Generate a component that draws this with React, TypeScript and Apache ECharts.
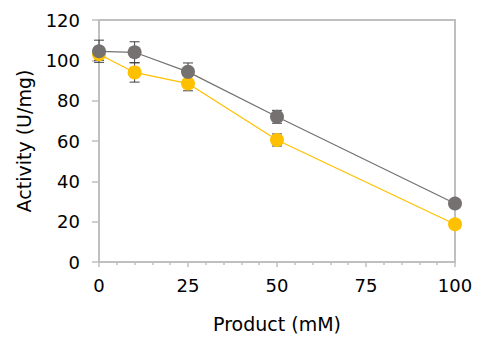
import React, { useEffect, useRef } from "react";
import * as echarts from "echarts";

const xValues = [0, 10, 25, 50, 100];
const graySeries = [104.5, 104, 94.3, 72, 29];
const grayErr = [5.5, 5.2, 4.4, 3.2, 1];
const yellowSeries = [103, 94, 88.5, 60.5, 18.7];
const yellowErr = [3, 4.8, 3.6, 3, 1];
const xTicks = [0, 25, 50, 75, 100];
const yTicks = [0, 20, 40, 60, 80, 100, 120];

const GRAY = "#767171";
const YELLOW = "#FFC000";
const AXIS = "#bfbfbf";
const FONT = "DejaVu Sans";

export default function App() {
  const ref = useRef<HTMLDivElement>(null);
  useEffect(() => {
    document.body.style.margin = "0";
    const chart = echarts.init(ref.current!, null, { renderer: "svg" });
    const errData: number[][] = [];
    xValues.forEach((x, i) => {
      errData.push([x, graySeries[i], grayErr[i]]);
      errData.push([x, yellowSeries[i], yellowErr[i]]);
    });
    chart.setOption({
      animation: false,
      grid: {
        left: 99,
        right: 22,
        top: 20,
        bottom: 75,
        show: true,
        borderColor: AXIS,
        borderWidth: 2,
      },
      xAxis: {
        type: "value",
        min: xTicks[0],
        max: xTicks[xTicks.length - 1],
        interval: 25,
        name: "Product (mM)",
        nameLocation: "middle",
        nameGap: 52,
        nameTextStyle: { fontFamily: FONT, fontSize: 19, color: "#000" },
        axisLine: { show: true, lineStyle: { color: AXIS, width: 2 } },
        axisTick: { show: true, length: 5, lineStyle: { color: AXIS, width: 1.5 } },
        minorTick: { show: true, splitNumber: 5, length: 3, lineStyle: { color: AXIS, width: 1.5 } },
        splitLine: { show: false },
        axisLabel: { fontFamily: FONT, fontSize: 18, color: "#000", margin: 14 },
      },
      yAxis: {
        type: "value",
        min: yTicks[0],
        max: yTicks[yTicks.length - 1],
        interval: 20,
        name: "Activity (U/mg)",
        nameLocation: "middle",
        nameGap: 66,
        nameTextStyle: { fontFamily: FONT, fontSize: 19, color: "#000" },
        axisLine: { show: true, lineStyle: { color: AXIS, width: 2 } },
        axisTick: { show: true, length: 7, lineStyle: { color: AXIS, width: 1.5 } },
        splitLine: { show: false },
        axisLabel: { fontFamily: FONT, fontSize: 18, color: "#000", margin: 19 },
      },
      series: [
        {
          type: "custom",
          z: 1,
          data: errData,
          renderItem: (params: any, api: any) => {
            const x = api.value(0);
            const y = api.value(1);
            const e = api.value(2);
            const top = api.coord([x, y + e]);
            const bot = api.coord([x, y - e]);
            const w = 5;
            const style = { stroke: "#404040", lineWidth: 1 };
            return {
              type: "group",
              children: [
                { type: "line", shape: { x1: top[0], y1: top[1], x2: bot[0], y2: bot[1] }, style },
                { type: "line", shape: { x1: top[0] - w, y1: top[1], x2: top[0] + w, y2: top[1] }, style },
                { type: "line", shape: { x1: bot[0] - w, y1: bot[1], x2: bot[0] + w, y2: bot[1] }, style },
              ],
            };
          },
        },
        {
          type: "line",
          z: 2,
          data: xValues.map((x, i) => [x, yellowSeries[i]]),
          symbol: "circle",
          symbolSize: 14,
          itemStyle: { color: YELLOW },
          lineStyle: { color: YELLOW, width: 1.25 },
        },
        {
          type: "line",
          z: 3,
          data: xValues.map((x, i) => [x, graySeries[i]]),
          symbol: "circle",
          symbolSize: 14,
          itemStyle: { color: GRAY },
          lineStyle: { color: GRAY, width: 1.25 },
        },
      ],
    });
    return () => chart.dispose();
  }, []);
  return <div ref={ref} style={{ width: 477, height: 338 }} />;
}
